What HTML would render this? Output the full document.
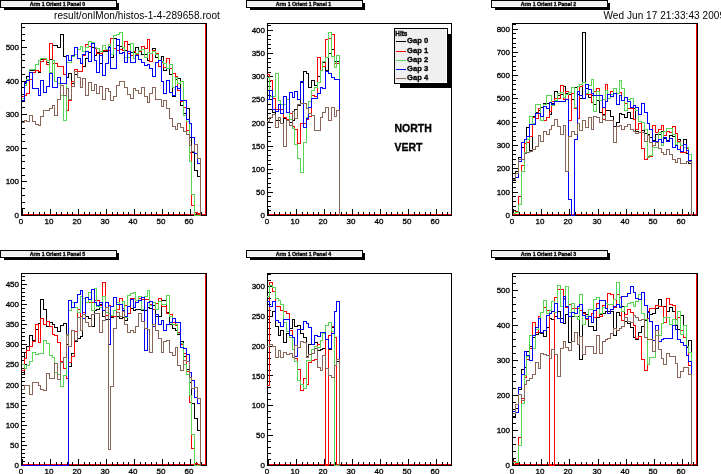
<!DOCTYPE html>
<html><head><meta charset="utf-8"><title>onlMon histos</title>
<style>
html,body{margin:0;padding:0;background:#fff;}
body{width:721px;height:474px;overflow:hidden;}
svg{display:block;font-family:"Liberation Sans",sans-serif;will-change:transform;}
svg text{stroke:#000;stroke-width:0.3px;}
svg text.hd{stroke:none;letter-spacing:0.07px;}
svg path{fill:none;stroke-width:1;shape-rendering:crispEdges;}
.ax text{font-size:8px;fill:#000;}
.tt{font-size:5.2px;font-weight:bold;fill:#000;}
.lg{font-size:7.6px;font-weight:bold;fill:#000;}
.lh{font-size:6.4px;font-weight:bold;fill:#000;}
.nv{font-size:10.5px;font-weight:bold;fill:#000;}
.hd{font-size:10px;fill:#000;}
</style></head><body>
<svg width="721" height="474" viewBox="0 0 721 474">
<rect x="0" y="0" width="721" height="474" fill="#fff"/>
<g><path d="M21.5 23.5H206.5V215.5H21.5Z" stroke="#000"/>
<path d="M205.5 24.0V214.5" stroke="#ff0000"/>
<path d="M22.0 214.5H206.0" stroke="#ff0000"/>
<path d="M22.5 216v-7M28.5 216v-4M33.5 216v-4M39.5 216v-4M44.5 216v-4M50.5 216v-7M56.5 216v-4M61.5 216v-4M67.5 216v-4M72.5 216v-4M78.5 216v-7M84.5 216v-4M89.5 216v-4M95.5 216v-4M100.5 216v-4M106.5 216v-7M112.5 216v-4M117.5 216v-4M123.5 216v-4M128.5 216v-4M134.5 216v-7M140.5 216v-4M145.5 216v-4M151.5 216v-4M156.5 216v-4M162.5 216v-7M168.5 216v-4M173.5 216v-4M179.5 216v-4M184.5 216v-4M190.5 216v-7M196.5 216v-4M201.5 216v-4M21 215.5h6M21 208.5h4M21 202.5h4M21 195.5h4M21 188.5h4M21 181.5h6M21 175.5h4M21 168.5h4M21 161.5h4M21 155.5h4M21 148.5h6M21 141.5h4M21 134.5h4M21 128.5h4M21 121.5h4M21 114.5h6M21 107.5h4M21 101.5h4M21 94.5h4M21 87.5h4M21 81.5h6M21 74.5h4M21 67.5h4M21 60.5h4M21 54.5h4M21 47.5h6M21 40.5h4M21 34.5h4M21 27.5h4" stroke="#000"/>
<path d="M21.5 94.5H24.5V83.5H26.5V76.5H29.5V70.5H32.5V70.5H35.5V70.5H38.5V72.5H40.5V59.5H43.5V59.5H46.5V62.5H49.5V59.5H52.5V45.5H54.5V45.5H57.5V47.5H60.5V34.5H63.5V56.5H66.5V77.5H68.5V73.5H71.5V83.5H74.5V74.5H77.5V71.5H80.5V71.5H82.5V66.5H85.5V58.5H88.5V52.5H91.5V47.5H94.5V55.5H96.5V52.5H99.5V63.5H102.5V51.5H105.5V51.5H108.5V46.5H110.5V57.5H113.5V38.5H116.5V45.5H119.5V46.5H122.5V50.5H124.5V50.5H127.5V44.5H130.5V52.5H133.5V52.5H135.5V47.5H138.5V51.5H141.5V54.5H144.5V54.5H147.5V60.5H149.5V53.5H152.5V48.5H155.5V57.5H158.5V60.5H161.5V56.5H163.5V70.5H166.5V68.5H169.5V74.5H172.5V96.5H175.5V79.5H177.5V78.5H180.5V105.5H183.5V113.5H186.5V108.5H189.5V137.5H191.5V152.5H194.5V170.5H197.5V176.5H200.5V215.5" stroke="#000000"/>
<path d="M21.5 96.5H24.5V95.5H26.5V93.5H29.5V79.5H32.5V72.5H35.5V70.5H38.5V71.5H40.5V61.5H43.5V59.5H46.5V64.5H49.5V43.5H52.5V63.5H54.5V63.5H57.5V66.5H60.5V66.5H63.5V74.5H66.5V110.5H68.5V100.5H71.5V81.5H74.5V69.5H77.5V71.5H80.5V71.5H82.5V55.5H85.5V44.5H88.5V46.5H91.5V42.5H94.5V48.5H96.5V53.5H99.5V53.5H102.5V50.5H105.5V50.5H108.5V50.5H110.5V38.5H113.5V48.5H116.5V50.5H119.5V49.5H122.5V50.5H124.5V41.5H127.5V53.5H130.5V55.5H133.5V51.5H135.5V54.5H138.5V51.5H141.5V46.5H144.5V48.5H147.5V39.5H149.5V61.5H152.5V50.5H155.5V53.5H158.5V66.5H161.5V62.5H163.5V67.5H166.5V58.5H169.5V68.5H172.5V73.5H175.5V76.5H177.5V90.5H180.5V101.5H183.5V107.5H186.5V130.5H189.5V152.5H191.5V205.5H194.5V212.5H197.5V213.5H200.5V215.5" stroke="#ff0000"/>
<path d="M21.5 98.5H24.5V85.5H26.5V79.5H29.5V69.5H32.5V69.5H35.5V64.5H38.5V60.5H40.5V58.5H43.5V58.5H46.5V60.5H49.5V72.5H52.5V60.5H54.5V81.5H57.5V83.5H60.5V95.5H63.5V120.5H66.5V62.5H68.5V62.5H71.5V56.5H74.5V54.5H77.5V49.5H80.5V46.5H82.5V51.5H85.5V47.5H88.5V41.5H91.5V42.5H94.5V47.5H96.5V48.5H99.5V51.5H102.5V45.5H105.5V49.5H108.5V44.5H110.5V54.5H113.5V35.5H116.5V34.5H119.5V32.5H122.5V47.5H124.5V57.5H127.5V57.5H130.5V43.5H133.5V58.5H135.5V53.5H138.5V50.5H141.5V49.5H144.5V57.5H147.5V52.5H149.5V53.5H152.5V51.5H155.5V54.5H158.5V60.5H161.5V61.5H163.5V63.5H166.5V68.5H169.5V64.5H172.5V87.5H175.5V77.5H177.5V83.5H180.5V81.5H183.5V115.5H186.5V121.5H189.5V161.5H191.5V194.5H194.5V215.5H197.5V215.5H200.5V215.5" stroke="#59d454"/>
<path d="M21.5 100.5H24.5V82.5H26.5V80.5H29.5V72.5H32.5V88.5H35.5V88.5H38.5V95.5H40.5V80.5H43.5V92.5H46.5V86.5H49.5V73.5H52.5V87.5H54.5V87.5H57.5V77.5H60.5V83.5H63.5V83.5H66.5V55.5H68.5V60.5H71.5V55.5H74.5V47.5H77.5V58.5H80.5V63.5H82.5V54.5H85.5V51.5H88.5V61.5H91.5V43.5H94.5V60.5H96.5V72.5H99.5V55.5H102.5V75.5H105.5V63.5H108.5V47.5H110.5V68.5H113.5V68.5H116.5V39.5H119.5V53.5H122.5V52.5H124.5V62.5H127.5V51.5H130.5V62.5H133.5V62.5H135.5V55.5H138.5V59.5H141.5V62.5H144.5V65.5H147.5V64.5H149.5V68.5H152.5V76.5H155.5V62.5H158.5V60.5H161.5V81.5H163.5V93.5H166.5V80.5H169.5V92.5H172.5V95.5H175.5V86.5H177.5V88.5H180.5V100.5H183.5V100.5H186.5V119.5H189.5V123.5H191.5V137.5H194.5V153.5H197.5V163.5H200.5V215.5" stroke="#0000ff"/>
<path d="M21.5 122.5H24.5V120.5H26.5V121.5H29.5V115.5H32.5V121.5H35.5V124.5H38.5V125.5H40.5V116.5H43.5V110.5H46.5V110.5H49.5V108.5H52.5V105.5H54.5V115.5H57.5V99.5H60.5V85.5H63.5V95.5H66.5V88.5H68.5V99.5H71.5V86.5H74.5V71.5H77.5V77.5H80.5V87.5H82.5V78.5H85.5V95.5H88.5V82.5H91.5V90.5H94.5V84.5H96.5V93.5H99.5V86.5H102.5V99.5H105.5V88.5H108.5V91.5H110.5V100.5H113.5V96.5H116.5V85.5H119.5V81.5H122.5V81.5H124.5V87.5H127.5V94.5H130.5V98.5H133.5V88.5H135.5V90.5H138.5V93.5H141.5V87.5H144.5V96.5H147.5V102.5H149.5V93.5H152.5V87.5H155.5V99.5H158.5V99.5H161.5V106.5H163.5V100.5H166.5V108.5H169.5V118.5H172.5V126.5H175.5V129.5H177.5V123.5H180.5V127.5H183.5V131.5H186.5V134.5H189.5V145.5H191.5V151.5H194.5V144.5H197.5V158.5H200.5V215.5" stroke="#876657"/>
<g class="ax"><text x="21" y="223.8" text-anchor="middle">0</text><text x="49" y="223.8" text-anchor="middle">10</text><text x="77" y="223.8" text-anchor="middle">20</text><text x="105" y="223.8" text-anchor="middle">30</text><text x="133" y="223.8" text-anchor="middle">40</text><text x="161" y="223.8" text-anchor="middle">50</text><text x="189" y="223.8" text-anchor="middle">60</text><text x="19" y="218" text-anchor="end">0</text><text x="19" y="184.4" text-anchor="end">100</text><text x="19" y="150.8" text-anchor="end">200</text><text x="19" y="117.2" text-anchor="end">300</text><text x="19" y="83.6" text-anchor="end">400</text><text x="19" y="50" text-anchor="end">500</text></g>
<rect x="4" y="3" width="115" height="7" fill="#000"/>
<rect x="0.5" y="0.5" width="116" height="7" fill="#f0f0f0" stroke="#000"/>
<path d="M1.5 6.5H115.5V1.5" stroke="#fff"/>
<text class="tt" x="57.5" y="6.1" text-anchor="middle">Arm 1 Orient 1 Panel 0</text></g>
<g><path d="M267.5 23.5H451.5V215.5H267.5Z" stroke="#000"/>
<path d="M0 0" stroke="#ff0000"/>
<path d="M268.0 214.5H451.0" stroke="#ff0000"/>
<path d="M268.5 216v-7M274.5 216v-4M279.5 216v-4M285.5 216v-4M290.5 216v-4M296.5 216v-7M302.5 216v-4M307.5 216v-4M313.5 216v-4M318.5 216v-4M324.5 216v-7M330.5 216v-4M335.5 216v-4M341.5 216v-4M346.5 216v-4M352.5 216v-7M358.5 216v-4M363.5 216v-4M369.5 216v-4M374.5 216v-4M380.5 216v-7M386.5 216v-4M391.5 216v-4M397.5 216v-4M402.5 216v-4M408.5 216v-7M414.5 216v-4M419.5 216v-4M425.5 216v-4M430.5 216v-4M436.5 216v-7M442.5 216v-4M447.5 216v-4M267 215.5h6M267 210.5h4M267 206.5h4M267 201.5h4M267 196.5h4M267 192.5h6M267 187.5h4M267 183.5h4M267 178.5h4M267 173.5h4M267 169.5h6M267 164.5h4M267 160.5h4M267 155.5h4M267 150.5h4M267 146.5h6M267 141.5h4M267 136.5h4M267 132.5h4M267 127.5h4M267 122.5h6M267 118.5h4M267 113.5h4M267 109.5h4M267 104.5h4M267 99.5h6M267 95.5h4M267 90.5h4M267 86.5h4M267 81.5h4M267 76.5h6M267 72.5h4M267 67.5h4M267 62.5h4M267 58.5h4M267 53.5h6M267 48.5h4M267 44.5h4M267 39.5h4M267 35.5h4M267 30.5h6M267 25.5h4" stroke="#000"/>
<path d="M266.5 109.5H269.5V109.5H272.5V112.5H275.5V120.5H278.5V120.5H280.5V123.5H283.5V118.5H286.5V119.5H289.5V122.5H292.5V120.5H294.5V109.5H297.5V105.5H300.5V82.5H303.5V71.5H306.5V73.5H308.5V87.5H311.5V80.5H314.5V85.5H317.5V76.5H320.5V70.5H322.5V62.5H325.5V70.5H328.5V53.5H331.5V49.5H334.5V61.5H336.5V61.5H339.5V215.5" stroke="#000000"/>
<path d="M266.5 74.5H269.5V80.5H272.5V98.5H275.5V109.5H278.5V109.5H280.5V109.5H283.5V117.5H286.5V119.5H289.5V113.5H292.5V126.5H294.5V129.5H297.5V143.5H300.5V123.5H303.5V123.5H306.5V119.5H308.5V116.5H311.5V95.5H314.5V96.5H317.5V57.5H320.5V70.5H322.5V66.5H325.5V39.5H328.5V38.5H331.5V34.5H334.5V63.5H336.5V63.5H339.5V215.5" stroke="#ff0000"/>
<path d="M266.5 77.5H269.5V96.5H272.5V96.5H275.5V73.5H278.5V100.5H280.5V104.5H283.5V104.5H286.5V99.5H289.5V119.5H292.5V128.5H294.5V144.5H297.5V158.5H300.5V172.5H303.5V142.5H306.5V117.5H308.5V101.5H311.5V90.5H314.5V87.5H317.5V82.5H320.5V70.5H322.5V61.5H325.5V57.5H328.5V32.5H331.5V56.5H334.5V67.5H336.5V55.5H339.5V215.5" stroke="#59d454"/>
<path d="M266.5 99.5H269.5V90.5H272.5V109.5H275.5V111.5H278.5V104.5H280.5V113.5H283.5V96.5H286.5V112.5H289.5V92.5H292.5V97.5H294.5V91.5H297.5V99.5H300.5V81.5H303.5V127.5H306.5V118.5H308.5V107.5H311.5V98.5H314.5V98.5H317.5V93.5H320.5V87.5H322.5V88.5H325.5V71.5H328.5V73.5H331.5V77.5H334.5V79.5H336.5V79.5H339.5V215.5" stroke="#0000ff"/>
<path d="M266.5 121.5H269.5V117.5H272.5V114.5H275.5V127.5H278.5V117.5H280.5V123.5H283.5V146.5H286.5V120.5H289.5V125.5H292.5V111.5H294.5V118.5H297.5V104.5H300.5V103.5H303.5V103.5H306.5V108.5H308.5V113.5H311.5V115.5H314.5V130.5H317.5V130.5H320.5V117.5H322.5V112.5H325.5V107.5H328.5V120.5H331.5V107.5H334.5V116.5H336.5V110.5H339.5V215.5" stroke="#876657"/>
<g class="ax"><text x="267" y="223.8" text-anchor="middle">0</text><text x="295" y="223.8" text-anchor="middle">10</text><text x="323" y="223.8" text-anchor="middle">20</text><text x="351" y="223.8" text-anchor="middle">30</text><text x="379" y="223.8" text-anchor="middle">40</text><text x="407" y="223.8" text-anchor="middle">50</text><text x="435" y="223.8" text-anchor="middle">60</text><text x="265" y="218" text-anchor="end">0</text><text x="265" y="194.88" text-anchor="end">50</text><text x="265" y="171.75" text-anchor="end">100</text><text x="265" y="148.62" text-anchor="end">150</text><text x="265" y="125.5" text-anchor="end">200</text><text x="265" y="102.38" text-anchor="end">250</text><text x="265" y="79.25" text-anchor="end">300</text><text x="265" y="56.12" text-anchor="end">350</text><text x="265" y="33" text-anchor="end">400</text></g>
<rect x="250" y="3" width="115" height="7" fill="#000"/>
<rect x="246.5" y="0.5" width="116" height="7" fill="#f0f0f0" stroke="#000"/>
<path d="M247.5 6.5H361.5V1.5" stroke="#fff"/>
<text class="tt" x="303.5" y="6.1" text-anchor="middle">Arm 1 Orient 1 Panel 1</text></g>
<g><path d="M512.5 23.5H697.5V215.5H512.5Z" stroke="#000"/>
<path d="M696.5 24.0V214.5" stroke="#ff0000"/>
<path d="M513.0 214.5H697.0" stroke="#ff0000"/>
<path d="M513.5 216v-7M519.5 216v-4M524.5 216v-4M530.5 216v-4M536.5 216v-4M541.5 216v-7M547.5 216v-4M552.5 216v-4M558.5 216v-4M564.5 216v-4M569.5 216v-7M575.5 216v-4M581.5 216v-4M586.5 216v-4M592.5 216v-4M598.5 216v-7M603.5 216v-4M609.5 216v-4M615.5 216v-4M620.5 216v-4M626.5 216v-7M631.5 216v-4M637.5 216v-4M643.5 216v-4M648.5 216v-4M654.5 216v-7M660.5 216v-4M665.5 216v-4M671.5 216v-4M677.5 216v-4M682.5 216v-7M688.5 216v-4M693.5 216v-4M512 215.5h6M512 210.5h4M512 206.5h4M512 201.5h4M512 196.5h4M512 192.5h6M512 187.5h4M512 182.5h4M512 178.5h4M512 173.5h4M512 168.5h6M512 164.5h4M512 159.5h4M512 154.5h4M512 150.5h4M512 145.5h6M512 140.5h4M512 136.5h4M512 131.5h4M512 126.5h4M512 122.5h6M512 117.5h4M512 112.5h4M512 108.5h4M512 103.5h4M512 98.5h6M512 94.5h4M512 89.5h4M512 84.5h4M512 80.5h4M512 75.5h6M512 70.5h4M512 66.5h4M512 61.5h4M512 56.5h4M512 52.5h6M512 47.5h4M512 43.5h4M512 38.5h4M512 33.5h4M512 29.5h6M512 24.5h4" stroke="#000"/>
<path d="M512.5 180.5H515.5V171.5H518.5V157.5H521.5V147.5H524.5V139.5H526.5V127.5H529.5V150.5H532.5V116.5H535.5V112.5H538.5V110.5H540.5V107.5H543.5V103.5H546.5V103.5H549.5V114.5H551.5V103.5H554.5V91.5H557.5V95.5H560.5V94.5H563.5V86.5H565.5V93.5H568.5V94.5H571.5V99.5H574.5V87.5H577.5V94.5H579.5V98.5H582.5V32.5H585.5V88.5H588.5V97.5H591.5V95.5H593.5V104.5H596.5V100.5H599.5V112.5H602.5V114.5H605.5V110.5H607.5V110.5H610.5V116.5H613.5V126.5H616.5V122.5H619.5V113.5H621.5V114.5H624.5V117.5H627.5V112.5H630.5V118.5H633.5V108.5H635.5V131.5H638.5V132.5H641.5V130.5H644.5V133.5H647.5V134.5H649.5V137.5H652.5V140.5H655.5V134.5H658.5V134.5H661.5V131.5H663.5V138.5H666.5V140.5H669.5V135.5H672.5V136.5H675.5V144.5H677.5V139.5H680.5V151.5H683.5V139.5H686.5V153.5H688.5V163.5H691.5V215.5" stroke="#000000"/>
<path d="M512.5 214.5H515.5V211.5H518.5V196.5H521.5V165.5H524.5V143.5H526.5V142.5H529.5V136.5H532.5V117.5H535.5V118.5H538.5V108.5H540.5V120.5H543.5V120.5H546.5V117.5H549.5V111.5H551.5V101.5H554.5V98.5H557.5V98.5H560.5V85.5H563.5V99.5H565.5V91.5H568.5V120.5H571.5V93.5H574.5V108.5H577.5V118.5H579.5V86.5H582.5V82.5H585.5V94.5H588.5V94.5H591.5V102.5H593.5V91.5H596.5V88.5H599.5V100.5H602.5V119.5H605.5V84.5H607.5V94.5H610.5V91.5H613.5V93.5H616.5V93.5H619.5V92.5H621.5V100.5H624.5V103.5H627.5V108.5H630.5V108.5H633.5V119.5H635.5V129.5H638.5V123.5H641.5V148.5H644.5V159.5H647.5V156.5H649.5V156.5H652.5V125.5H655.5V132.5H658.5V129.5H661.5V125.5H663.5V135.5H666.5V131.5H669.5V132.5H672.5V126.5H675.5V133.5H677.5V141.5H680.5V152.5H683.5V152.5H686.5V148.5H688.5V160.5H691.5V215.5" stroke="#ff0000"/>
<path d="M512.5 213.5H515.5V212.5H518.5V204.5H521.5V171.5H524.5V152.5H526.5V139.5H529.5V116.5H532.5V123.5H535.5V104.5H538.5V104.5H540.5V120.5H543.5V104.5H546.5V95.5H549.5V95.5H551.5V105.5H554.5V100.5H557.5V93.5H560.5V92.5H563.5V97.5H565.5V94.5H568.5V92.5H571.5V87.5H574.5V107.5H577.5V86.5H579.5V84.5H582.5V82.5H585.5V93.5H588.5V85.5H591.5V79.5H593.5V111.5H596.5V91.5H599.5V100.5H602.5V99.5H605.5V90.5H607.5V98.5H610.5V94.5H613.5V88.5H616.5V93.5H619.5V80.5H621.5V88.5H624.5V110.5H627.5V99.5H630.5V98.5H633.5V105.5H635.5V110.5H638.5V121.5H641.5V122.5H644.5V129.5H647.5V157.5H649.5V155.5H652.5V147.5H655.5V147.5H658.5V132.5H661.5V145.5H663.5V131.5H666.5V128.5H669.5V128.5H672.5V134.5H675.5V144.5H677.5V142.5H680.5V145.5H683.5V147.5H686.5V147.5H688.5V154.5H691.5V215.5" stroke="#59d454"/>
<path d="M512.5 179.5H515.5V177.5H518.5V161.5H521.5V142.5H524.5V139.5H526.5V136.5H529.5V124.5H532.5V124.5H535.5V113.5H538.5V113.5H540.5V116.5H543.5V106.5H546.5V108.5H549.5V102.5H551.5V104.5H554.5V101.5H557.5V101.5H560.5V101.5H563.5V101.5H565.5V99.5H568.5V199.5H571.5V215.5H574.5V139.5H577.5V91.5H579.5V95.5H582.5V98.5H585.5V84.5H588.5V89.5H591.5V93.5H593.5V95.5H596.5V95.5H599.5V95.5H602.5V107.5H605.5V101.5H607.5V94.5H610.5V96.5H613.5V93.5H616.5V104.5H619.5V95.5H621.5V100.5H624.5V97.5H627.5V101.5H630.5V107.5H633.5V105.5H635.5V107.5H638.5V114.5H641.5V103.5H644.5V112.5H647.5V123.5H649.5V129.5H652.5V141.5H655.5V141.5H658.5V139.5H661.5V142.5H663.5V137.5H666.5V141.5H669.5V138.5H672.5V147.5H675.5V145.5H677.5V149.5H680.5V151.5H683.5V144.5H686.5V150.5H688.5V160.5H691.5V215.5" stroke="#0000ff"/>
<path d="M512.5 179.5H515.5V173.5H518.5V159.5H521.5V159.5H524.5V153.5H526.5V152.5H529.5V151.5H532.5V149.5H535.5V146.5H538.5V135.5H540.5V141.5H543.5V131.5H546.5V134.5H549.5V129.5H551.5V125.5H554.5V119.5H557.5V126.5H560.5V134.5H563.5V125.5H565.5V171.5H568.5V136.5H571.5V131.5H574.5V134.5H577.5V123.5H579.5V130.5H582.5V120.5H585.5V127.5H588.5V117.5H591.5V129.5H593.5V116.5H596.5V117.5H599.5V122.5H602.5V115.5H605.5V120.5H607.5V120.5H610.5V120.5H613.5V142.5H616.5V126.5H619.5V125.5H621.5V129.5H624.5V126.5H627.5V124.5H630.5V129.5H633.5V131.5H635.5V133.5H638.5V132.5H641.5V132.5H644.5V141.5H647.5V135.5H649.5V142.5H652.5V145.5H655.5V142.5H658.5V148.5H661.5V152.5H663.5V154.5H666.5V149.5H669.5V154.5H672.5V159.5H675.5V162.5H677.5V158.5H680.5V163.5H683.5V163.5H686.5V161.5H688.5V161.5H691.5V215.5" stroke="#876657"/>
<g class="ax"><text x="512" y="223.8" text-anchor="middle">0</text><text x="540" y="223.8" text-anchor="middle">10</text><text x="568" y="223.8" text-anchor="middle">20</text><text x="597" y="223.8" text-anchor="middle">30</text><text x="625" y="223.8" text-anchor="middle">40</text><text x="653" y="223.8" text-anchor="middle">50</text><text x="681" y="223.8" text-anchor="middle">60</text><text x="510" y="218" text-anchor="end">0</text><text x="510" y="194.69" text-anchor="end">100</text><text x="510" y="171.38" text-anchor="end">200</text><text x="510" y="148.07" text-anchor="end">300</text><text x="510" y="124.76" text-anchor="end">400</text><text x="510" y="101.45" text-anchor="end">500</text><text x="510" y="78.14" text-anchor="end">600</text><text x="510" y="54.83" text-anchor="end">700</text><text x="510" y="31.52" text-anchor="end">800</text></g>
<rect x="495" y="3" width="115" height="7" fill="#000"/>
<rect x="491.5" y="0.5" width="116" height="7" fill="#f0f0f0" stroke="#000"/>
<path d="M492.5 6.5H606.5V1.5" stroke="#fff"/>
<text class="tt" x="548.5" y="6.1" text-anchor="middle">Arm 1 Orient 1 Panel 2</text></g>
<g><path d="M21.5 273.5H206.5V465.5H21.5Z" stroke="#000"/>
<path d="M205.5 274.0V464.5" stroke="#ff0000"/>
<path d="M22.0 464.5H206.0" stroke="#ff0000"/>
<path d="M22.5 466v-7M28.5 466v-4M33.5 466v-4M39.5 466v-4M44.5 466v-4M50.5 466v-7M56.5 466v-4M61.5 466v-4M67.5 466v-4M72.5 466v-4M78.5 466v-7M84.5 466v-4M89.5 466v-4M95.5 466v-4M100.5 466v-4M106.5 466v-7M112.5 466v-4M117.5 466v-4M123.5 466v-4M128.5 466v-4M134.5 466v-7M140.5 466v-4M145.5 466v-4M151.5 466v-4M156.5 466v-4M162.5 466v-7M168.5 466v-4M173.5 466v-4M179.5 466v-4M184.5 466v-4M190.5 466v-7M196.5 466v-4M201.5 466v-4M21 465.5h6M21 461.5h4M21 457.5h4M21 453.5h4M21 449.5h4M21 445.5h6M21 441.5h4M21 437.5h4M21 433.5h4M21 429.5h4M21 425.5h6M21 421.5h4M21 417.5h4M21 413.5h4M21 409.5h4M21 405.5h6M21 401.5h4M21 397.5h4M21 393.5h4M21 389.5h4M21 385.5h6M21 381.5h4M21 377.5h4M21 372.5h4M21 368.5h4M21 364.5h6M21 360.5h4M21 356.5h4M21 352.5h4M21 348.5h4M21 344.5h6M21 340.5h4M21 336.5h4M21 332.5h4M21 328.5h4M21 324.5h6M21 320.5h4M21 316.5h4M21 312.5h4M21 308.5h4M21 304.5h6M21 300.5h4M21 296.5h4M21 292.5h4M21 288.5h4M21 284.5h6M21 280.5h4M21 276.5h4" stroke="#000"/>
<path d="M21.5 374.5H24.5V352.5H26.5V346.5H29.5V335.5H32.5V340.5H35.5V329.5H38.5V323.5H40.5V299.5H43.5V309.5H46.5V326.5H49.5V322.5H52.5V324.5H54.5V327.5H57.5V331.5H60.5V325.5H63.5V323.5H66.5V344.5H68.5V366.5H71.5V353.5H74.5V341.5H77.5V338.5H80.5V336.5H82.5V314.5H85.5V316.5H88.5V318.5H91.5V326.5H94.5V310.5H96.5V309.5H99.5V304.5H102.5V316.5H105.5V319.5H108.5V319.5H110.5V317.5H113.5V316.5H116.5V316.5H119.5V318.5H122.5V317.5H124.5V320.5H127.5V306.5H130.5V308.5H133.5V310.5H135.5V309.5H138.5V309.5H141.5V310.5H144.5V310.5H147.5V307.5H149.5V308.5H152.5V305.5H155.5V316.5H158.5V316.5H161.5V300.5H163.5V300.5H166.5V312.5H169.5V324.5H172.5V328.5H175.5V330.5H177.5V334.5H180.5V341.5H183.5V356.5H186.5V369.5H189.5V382.5H191.5V403.5H194.5V418.5H197.5V430.5H200.5V465.5" stroke="#000000"/>
<path d="M21.5 370.5H24.5V358.5H26.5V350.5H29.5V346.5H32.5V341.5H35.5V324.5H38.5V342.5H40.5V318.5H43.5V324.5H46.5V321.5H49.5V326.5H52.5V334.5H54.5V335.5H57.5V342.5H60.5V361.5H63.5V368.5H66.5V378.5H68.5V362.5H71.5V356.5H74.5V331.5H77.5V309.5H80.5V316.5H82.5V312.5H85.5V302.5H88.5V302.5H91.5V302.5H94.5V300.5H96.5V300.5H99.5V305.5H102.5V282.5H105.5V315.5H108.5V305.5H110.5V316.5H113.5V316.5H116.5V309.5H119.5V298.5H122.5V308.5H124.5V305.5H127.5V313.5H130.5V298.5H133.5V298.5H135.5V302.5H138.5V298.5H141.5V299.5H144.5V299.5H147.5V299.5H149.5V304.5H152.5V309.5H155.5V303.5H158.5V298.5H161.5V306.5H163.5V306.5H166.5V313.5H169.5V314.5H172.5V322.5H175.5V325.5H177.5V332.5H180.5V344.5H183.5V353.5H186.5V371.5H189.5V402.5H191.5V448.5H194.5V463.5H197.5V464.5H200.5V465.5" stroke="#ff0000"/>
<path d="M21.5 364.5H24.5V368.5H26.5V365.5H29.5V361.5H32.5V352.5H35.5V354.5H38.5V353.5H40.5V353.5H43.5V340.5H46.5V343.5H49.5V355.5H52.5V357.5H54.5V372.5H57.5V374.5H60.5V386.5H63.5V375.5H66.5V335.5H68.5V310.5H71.5V302.5H74.5V307.5H77.5V312.5H80.5V296.5H82.5V298.5H85.5V302.5H88.5V292.5H91.5V310.5H94.5V288.5H96.5V306.5H99.5V307.5H102.5V296.5H105.5V312.5H108.5V313.5H110.5V315.5H113.5V310.5H116.5V302.5H119.5V304.5H122.5V301.5H124.5V317.5H127.5V295.5H130.5V293.5H133.5V292.5H135.5V300.5H138.5V296.5H141.5V309.5H144.5V296.5H147.5V290.5H149.5V305.5H152.5V302.5H155.5V309.5H158.5V301.5H161.5V304.5H163.5V304.5H166.5V295.5H169.5V316.5H172.5V324.5H175.5V324.5H177.5V333.5H180.5V343.5H183.5V364.5H186.5V374.5H189.5V395.5H191.5V434.5H194.5V465.5H197.5V465.5H200.5V465.5" stroke="#59d454"/>
<path d="M21.5 465.5H24.5V465.5H26.5V465.5H29.5V465.5H32.5V465.5H35.5V465.5H38.5V465.5H40.5V465.5H43.5V465.5H46.5V465.5H49.5V465.5H52.5V465.5H54.5V465.5H57.5V465.5H60.5V465.5H63.5V465.5H66.5V465.5H68.5V300.5H71.5V307.5H74.5V302.5H77.5V294.5H80.5V290.5H82.5V318.5H85.5V297.5H88.5V299.5H91.5V289.5H94.5V302.5H96.5V305.5H99.5V302.5H102.5V310.5H105.5V302.5H108.5V344.5H110.5V306.5H113.5V297.5H116.5V304.5H119.5V304.5H122.5V310.5H124.5V316.5H127.5V306.5H130.5V299.5H133.5V307.5H135.5V302.5H138.5V300.5H141.5V297.5H144.5V350.5H147.5V302.5H149.5V301.5H152.5V326.5H155.5V314.5H158.5V324.5H161.5V320.5H163.5V330.5H166.5V324.5H169.5V322.5H172.5V318.5H175.5V322.5H177.5V322.5H180.5V347.5H183.5V348.5H186.5V354.5H189.5V372.5H191.5V380.5H194.5V397.5H197.5V403.5H200.5V465.5" stroke="#0000ff"/>
<path d="M21.5 389.5H24.5V385.5H26.5V385.5H29.5V394.5H32.5V382.5H35.5V382.5H38.5V385.5H40.5V389.5H43.5V390.5H46.5V373.5H49.5V378.5H52.5V378.5H54.5V363.5H57.5V379.5H60.5V362.5H63.5V357.5H66.5V334.5H68.5V346.5H71.5V330.5H74.5V340.5H77.5V317.5H80.5V330.5H82.5V314.5H85.5V322.5H88.5V326.5H91.5V314.5H94.5V313.5H96.5V313.5H99.5V332.5H102.5V320.5H105.5V307.5H108.5V449.5H110.5V386.5H113.5V328.5H116.5V312.5H119.5V316.5H122.5V311.5H124.5V324.5H127.5V332.5H130.5V330.5H133.5V332.5H135.5V326.5H138.5V313.5H141.5V321.5H144.5V328.5H147.5V329.5H149.5V352.5H152.5V324.5H155.5V330.5H158.5V338.5H161.5V352.5H163.5V341.5H166.5V340.5H169.5V352.5H172.5V355.5H175.5V347.5H177.5V365.5H180.5V370.5H183.5V360.5H186.5V361.5H189.5V377.5H191.5V388.5H194.5V387.5H197.5V398.5H200.5V465.5" stroke="#876657"/>
<g class="ax"><text x="21" y="473.8" text-anchor="middle">0</text><text x="49" y="473.8" text-anchor="middle">10</text><text x="77" y="473.8" text-anchor="middle">20</text><text x="105" y="473.8" text-anchor="middle">30</text><text x="133" y="473.8" text-anchor="middle">40</text><text x="161" y="473.8" text-anchor="middle">50</text><text x="189" y="473.8" text-anchor="middle">60</text><text x="19" y="468" text-anchor="end">0</text><text x="19" y="447.89" text-anchor="end">50</text><text x="19" y="427.78" text-anchor="end">100</text><text x="19" y="407.67" text-anchor="end">150</text><text x="19" y="387.56" text-anchor="end">200</text><text x="19" y="367.45" text-anchor="end">250</text><text x="19" y="347.34" text-anchor="end">300</text><text x="19" y="327.23" text-anchor="end">350</text><text x="19" y="307.12" text-anchor="end">400</text><text x="19" y="287.01" text-anchor="end">450</text></g>
<rect x="4" y="253" width="115" height="7" fill="#000"/>
<rect x="0.5" y="250.5" width="116" height="7" fill="#f0f0f0" stroke="#000"/>
<path d="M1.5 256.5H115.5V251.5" stroke="#fff"/>
<text class="tt" x="57.5" y="256.1" text-anchor="middle">Arm 1 Orient 1 Panel 5</text></g>
<g><path d="M267.5 273.5H451.5V465.5H267.5Z" stroke="#000"/>
<path d="M0 0" stroke="#ff0000"/>
<path d="M268.0 464.5H451.0" stroke="#ff0000"/>
<path d="M268.5 466v-7M274.5 466v-4M279.5 466v-4M285.5 466v-4M290.5 466v-4M296.5 466v-7M302.5 466v-4M307.5 466v-4M313.5 466v-4M318.5 466v-4M324.5 466v-7M330.5 466v-4M335.5 466v-4M341.5 466v-4M346.5 466v-4M352.5 466v-7M358.5 466v-4M363.5 466v-4M369.5 466v-4M374.5 466v-4M380.5 466v-7M386.5 466v-4M391.5 466v-4M397.5 466v-4M402.5 466v-4M408.5 466v-7M414.5 466v-4M419.5 466v-4M425.5 466v-4M430.5 466v-4M436.5 466v-7M442.5 466v-4M447.5 466v-4M267 465.5h6M267 459.5h4M267 453.5h4M267 447.5h4M267 441.5h4M267 435.5h6M267 429.5h4M267 423.5h4M267 417.5h4M267 411.5h4M267 405.5h6M267 399.5h4M267 393.5h4M267 387.5h4M267 381.5h4M267 375.5h6M267 370.5h4M267 364.5h4M267 358.5h4M267 352.5h4M267 346.5h6M267 340.5h4M267 334.5h4M267 328.5h4M267 322.5h4M267 316.5h6M267 310.5h4M267 304.5h4M267 298.5h4M267 292.5h4M267 286.5h6M267 280.5h4M267 274.5h4" stroke="#000"/>
<path d="M266.5 319.5H269.5V316.5H272.5V311.5H275.5V326.5H278.5V335.5H280.5V330.5H283.5V342.5H286.5V333.5H289.5V328.5H292.5V319.5H294.5V326.5H297.5V325.5H300.5V333.5H303.5V337.5H306.5V356.5H308.5V344.5H311.5V344.5H314.5V342.5H317.5V350.5H320.5V349.5H322.5V348.5H325.5V339.5H328.5V349.5H331.5V327.5H334.5V337.5H336.5V361.5H339.5V465.5" stroke="#000000"/>
<path d="M266.5 385.5H269.5V282.5H272.5V291.5H275.5V306.5H278.5V306.5H280.5V310.5H283.5V311.5H286.5V313.5H289.5V330.5H292.5V349.5H294.5V358.5H297.5V369.5H300.5V390.5H303.5V378.5H306.5V384.5H308.5V362.5H311.5V360.5H314.5V359.5H317.5V344.5H320.5V340.5H322.5V333.5H325.5V465.5H328.5V335.5H331.5V326.5H334.5V337.5H336.5V465.5H339.5V465.5" stroke="#ff0000"/>
<path d="M266.5 296.5H269.5V285.5H272.5V287.5H275.5V298.5H278.5V300.5H280.5V304.5H283.5V322.5H286.5V331.5H289.5V337.5H292.5V349.5H294.5V361.5H297.5V380.5H300.5V384.5H303.5V388.5H306.5V360.5H308.5V360.5H311.5V349.5H314.5V346.5H317.5V347.5H320.5V340.5H322.5V333.5H325.5V325.5H328.5V322.5H331.5V331.5H334.5V465.5H336.5V465.5H339.5V465.5" stroke="#59d454"/>
<path d="M266.5 301.5H269.5V306.5H272.5V301.5H275.5V320.5H278.5V322.5H280.5V326.5H283.5V319.5H286.5V319.5H289.5V335.5H292.5V337.5H294.5V356.5H297.5V329.5H300.5V329.5H303.5V321.5H306.5V323.5H308.5V327.5H311.5V344.5H314.5V335.5H317.5V336.5H320.5V332.5H322.5V332.5H325.5V339.5H328.5V348.5H331.5V333.5H334.5V311.5H336.5V301.5H339.5V465.5" stroke="#0000ff"/>
<path d="M266.5 346.5H269.5V344.5H272.5V346.5H275.5V357.5H278.5V350.5H280.5V357.5H283.5V352.5H286.5V354.5H289.5V353.5H292.5V357.5H294.5V345.5H297.5V347.5H300.5V341.5H303.5V342.5H306.5V357.5H308.5V354.5H311.5V353.5H314.5V348.5H317.5V367.5H320.5V370.5H322.5V355.5H325.5V368.5H328.5V375.5H331.5V377.5H334.5V365.5H336.5V359.5H339.5V465.5" stroke="#876657"/>
<g class="ax"><text x="267" y="473.8" text-anchor="middle">0</text><text x="295" y="473.8" text-anchor="middle">10</text><text x="323" y="473.8" text-anchor="middle">20</text><text x="351" y="473.8" text-anchor="middle">30</text><text x="379" y="473.8" text-anchor="middle">40</text><text x="407" y="473.8" text-anchor="middle">50</text><text x="435" y="473.8" text-anchor="middle">60</text><text x="265" y="468" text-anchor="end">0</text><text x="265" y="438.17" text-anchor="end">50</text><text x="265" y="408.33" text-anchor="end">100</text><text x="265" y="378.5" text-anchor="end">150</text><text x="265" y="348.66" text-anchor="end">200</text><text x="265" y="318.82" text-anchor="end">250</text><text x="265" y="288.99" text-anchor="end">300</text></g>
<rect x="250" y="253" width="115" height="7" fill="#000"/>
<rect x="246.5" y="250.5" width="116" height="7" fill="#f0f0f0" stroke="#000"/>
<path d="M247.5 256.5H361.5V251.5" stroke="#fff"/>
<text class="tt" x="303.5" y="256.1" text-anchor="middle">Arm 1 Orient 1 Panel 4</text></g>
<g><path d="M512.5 273.5H697.5V465.5H512.5Z" stroke="#000"/>
<path d="M696.5 274.0V464.5" stroke="#ff0000"/>
<path d="M513.0 464.5H697.0" stroke="#ff0000"/>
<path d="M513.5 466v-7M519.5 466v-4M524.5 466v-4M530.5 466v-4M536.5 466v-4M541.5 466v-7M547.5 466v-4M552.5 466v-4M558.5 466v-4M564.5 466v-4M569.5 466v-7M575.5 466v-4M581.5 466v-4M586.5 466v-4M592.5 466v-4M598.5 466v-7M603.5 466v-4M609.5 466v-4M615.5 466v-4M620.5 466v-4M626.5 466v-7M631.5 466v-4M637.5 466v-4M643.5 466v-4M648.5 466v-4M654.5 466v-7M660.5 466v-4M665.5 466v-4M671.5 466v-4M677.5 466v-4M682.5 466v-7M688.5 466v-4M693.5 466v-4M512 465.5h6M512 458.5h4M512 451.5h4M512 444.5h4M512 437.5h4M512 430.5h6M512 423.5h4M512 416.5h4M512 409.5h4M512 402.5h4M512 395.5h6M512 388.5h4M512 381.5h4M512 374.5h4M512 367.5h4M512 360.5h6M512 353.5h4M512 346.5h4M512 339.5h4M512 332.5h4M512 325.5h6M512 318.5h4M512 311.5h4M512 304.5h4M512 297.5h4M512 290.5h6M512 283.5h4M512 276.5h4" stroke="#000"/>
<path d="M512.5 417.5H515.5V408.5H518.5V389.5H521.5V369.5H524.5V367.5H526.5V351.5H529.5V346.5H532.5V337.5H535.5V334.5H538.5V332.5H540.5V333.5H543.5V336.5H546.5V327.5H549.5V318.5H551.5V319.5H554.5V316.5H557.5V311.5H560.5V318.5H563.5V323.5H565.5V314.5H568.5V342.5H571.5V316.5H574.5V316.5H577.5V316.5H579.5V359.5H582.5V312.5H585.5V314.5H588.5V326.5H591.5V326.5H593.5V330.5H596.5V317.5H599.5V314.5H602.5V313.5H605.5V311.5H607.5V311.5H610.5V311.5H613.5V335.5H616.5V312.5H619.5V315.5H621.5V306.5H624.5V321.5H627.5V323.5H630.5V327.5H633.5V337.5H635.5V339.5H638.5V332.5H641.5V326.5H644.5V320.5H647.5V311.5H649.5V314.5H652.5V313.5H655.5V308.5H658.5V299.5H661.5V306.5H663.5V306.5H666.5V311.5H669.5V307.5H672.5V311.5H675.5V325.5H677.5V329.5H680.5V315.5H683.5V325.5H686.5V347.5H688.5V340.5H691.5V465.5" stroke="#000000"/>
<path d="M512.5 461.5H515.5V463.5H518.5V437.5H521.5V398.5H524.5V377.5H526.5V359.5H529.5V348.5H532.5V322.5H535.5V332.5H538.5V316.5H540.5V312.5H543.5V307.5H546.5V310.5H549.5V465.5H551.5V465.5H554.5V297.5H557.5V289.5H560.5V289.5H563.5V298.5H565.5V307.5H568.5V304.5H571.5V308.5H574.5V308.5H577.5V308.5H579.5V310.5H582.5V313.5H585.5V319.5H588.5V316.5H591.5V313.5H593.5V317.5H596.5V303.5H599.5V316.5H602.5V305.5H605.5V308.5H607.5V293.5H610.5V294.5H613.5V307.5H616.5V294.5H619.5V297.5H621.5V320.5H624.5V314.5H627.5V309.5H630.5V312.5H633.5V325.5H635.5V338.5H638.5V336.5H641.5V359.5H644.5V370.5H647.5V318.5H649.5V308.5H652.5V308.5H655.5V305.5H658.5V306.5H661.5V306.5H663.5V322.5H666.5V298.5H669.5V304.5H672.5V305.5H675.5V319.5H677.5V317.5H680.5V330.5H683.5V337.5H686.5V346.5H688.5V365.5H691.5V465.5" stroke="#ff0000"/>
<path d="M512.5 462.5H515.5V462.5H518.5V445.5H521.5V403.5H524.5V375.5H526.5V356.5H529.5V335.5H532.5V348.5H535.5V329.5H538.5V318.5H540.5V312.5H543.5V300.5H546.5V313.5H549.5V310.5H551.5V301.5H554.5V312.5H557.5V285.5H560.5V306.5H563.5V299.5H565.5V286.5H568.5V312.5H571.5V303.5H574.5V316.5H577.5V319.5H579.5V294.5H582.5V324.5H585.5V316.5H588.5V309.5H591.5V309.5H593.5V299.5H596.5V297.5H599.5V313.5H602.5V307.5H605.5V303.5H607.5V304.5H610.5V304.5H613.5V299.5H616.5V282.5H619.5V306.5H621.5V311.5H624.5V306.5H627.5V303.5H630.5V302.5H633.5V306.5H635.5V301.5H638.5V294.5H641.5V313.5H644.5V319.5H647.5V364.5H649.5V357.5H652.5V357.5H655.5V335.5H658.5V335.5H661.5V323.5H663.5V317.5H666.5V317.5H669.5V324.5H672.5V319.5H675.5V324.5H677.5V311.5H680.5V334.5H683.5V325.5H686.5V346.5H688.5V352.5H691.5V465.5" stroke="#59d454"/>
<path d="M512.5 411.5H515.5V412.5H518.5V387.5H521.5V374.5H524.5V351.5H526.5V355.5H529.5V360.5H532.5V335.5H535.5V327.5H538.5V318.5H540.5V332.5H543.5V330.5H546.5V315.5H549.5V313.5H551.5V311.5H554.5V303.5H557.5V318.5H560.5V322.5H563.5V296.5H565.5V306.5H568.5V316.5H571.5V312.5H574.5V313.5H577.5V306.5H579.5V304.5H582.5V315.5H585.5V318.5H588.5V316.5H591.5V322.5H593.5V310.5H596.5V308.5H599.5V300.5H602.5V300.5H605.5V308.5H607.5V313.5H610.5V309.5H613.5V306.5H616.5V304.5H619.5V307.5H621.5V296.5H624.5V296.5H627.5V293.5H630.5V286.5H633.5V292.5H635.5V298.5H638.5V299.5H641.5V292.5H644.5V305.5H647.5V312.5H649.5V321.5H652.5V340.5H655.5V325.5H658.5V341.5H661.5V339.5H663.5V338.5H666.5V338.5H669.5V338.5H672.5V325.5H675.5V329.5H677.5V339.5H680.5V342.5H683.5V345.5H686.5V355.5H688.5V361.5H691.5V465.5" stroke="#0000ff"/>
<path d="M512.5 413.5H515.5V404.5H518.5V394.5H521.5V400.5H524.5V384.5H526.5V380.5H529.5V378.5H532.5V374.5H535.5V362.5H538.5V368.5H540.5V353.5H543.5V354.5H546.5V355.5H549.5V358.5H551.5V349.5H554.5V354.5H557.5V376.5H560.5V348.5H563.5V341.5H565.5V347.5H568.5V350.5H571.5V341.5H574.5V332.5H577.5V344.5H579.5V336.5H582.5V354.5H585.5V346.5H588.5V346.5H591.5V346.5H593.5V353.5H596.5V335.5H599.5V353.5H602.5V341.5H605.5V339.5H607.5V338.5H610.5V333.5H613.5V328.5H616.5V330.5H619.5V328.5H621.5V326.5H624.5V317.5H627.5V321.5H630.5V322.5H633.5V315.5H635.5V317.5H638.5V320.5H641.5V319.5H644.5V337.5H647.5V339.5H649.5V339.5H652.5V351.5H655.5V330.5H658.5V349.5H661.5V358.5H663.5V364.5H666.5V353.5H669.5V356.5H672.5V356.5H675.5V363.5H677.5V377.5H680.5V371.5H683.5V367.5H686.5V367.5H688.5V374.5H691.5V465.5" stroke="#876657"/>
<g class="ax"><text x="512" y="473.8" text-anchor="middle">0</text><text x="540" y="473.8" text-anchor="middle">10</text><text x="568" y="473.8" text-anchor="middle">20</text><text x="597" y="473.8" text-anchor="middle">30</text><text x="625" y="473.8" text-anchor="middle">40</text><text x="653" y="473.8" text-anchor="middle">50</text><text x="681" y="473.8" text-anchor="middle">60</text><text x="510" y="468" text-anchor="end">0</text><text x="510" y="433" text-anchor="end">100</text><text x="510" y="398" text-anchor="end">200</text><text x="510" y="363" text-anchor="end">300</text><text x="510" y="328" text-anchor="end">400</text><text x="510" y="293" text-anchor="end">500</text></g>
<rect x="495" y="253" width="115" height="7" fill="#000"/>
<rect x="491.5" y="250.5" width="116" height="7" fill="#f0f0f0" stroke="#000"/>
<path d="M492.5 256.5H606.5V251.5" stroke="#fff"/>
<text class="tt" x="548.5" y="256.1" text-anchor="middle">Arm 1 Orient 1 Panel 3</text></g>
<g><rect x="400" y="34" width="52" height="54" fill="#000"/><rect x="394.5" y="28.5" width="53" height="55" fill="#f0f0f0" stroke="#000"/><path d="M395 82.5H446.5V29" stroke="#fff"/><text class="lh" x="395.3" y="36">Hits</text><path d="M396 41.5H405.5" stroke="#000000"/><text class="lg" x="407" y="43.4">Gap 0</text><path d="M396 51.5H405.5" stroke="#ff0000"/><text class="lg" x="407" y="53.4">Gap 1</text><path d="M396 60.5H405.5" stroke="#59d454"/><text class="lg" x="407" y="62.4">Gap 2</text><path d="M396 69.5H405.5" stroke="#0000ff"/><text class="lg" x="407" y="71.4">Gap 3</text><path d="M396 78.5H405.5" stroke="#876657"/><text class="lg" x="407" y="80.4">Gap 4</text></g>
<text class="nv" x="394.5" y="132">NORTH</text>
<text class="nv" x="394.5" y="151.3">VERT</text>
<text class="hd" x="54" y="18.6">result/onlMon/histos-1-4-289658.root</text>
<text class="hd" x="603.5" y="19">Wed Jun 17 21:33:43 2009</text>
</svg>
</body></html>
